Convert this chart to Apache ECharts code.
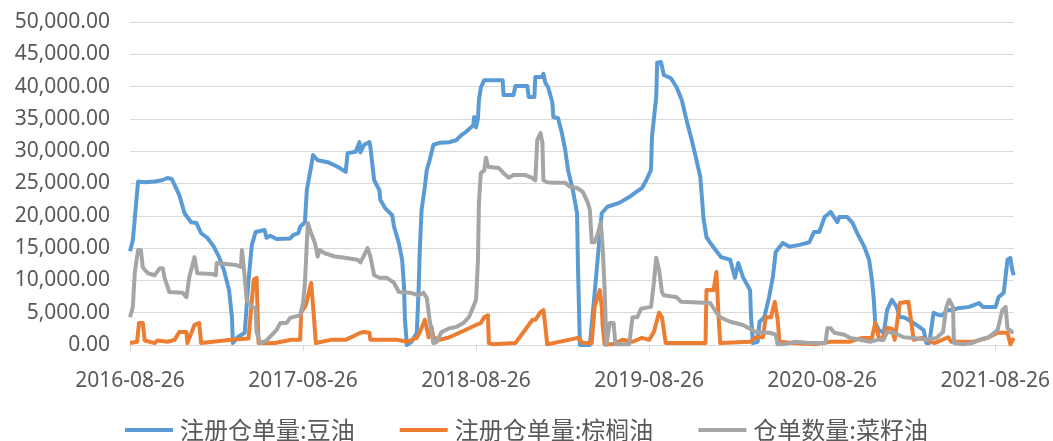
<!DOCTYPE html>
<html>
<head>
<meta charset="utf-8">
<script src="https://cdn.jsdelivr.net/npm/echarts@6/dist/echarts.min.js"></script>
<style>
html,body{margin:0;padding:0;background:#fff;}
#chart{width:1053px;height:441px;}
</style>
</head>
<body>
<div id="chart"></div>
<script>
const seriesNames = ['注册仓单量:豆油', '注册仓单量:棕榈油', '仓单数量:菜籽油'];
const xTickLabels = ['2016-08-26', '2017-08-26', '2018-08-26', '2019-08-26', '2020-08-26', '2021-08-26'];

const soyDates = ['2016-08-26','2016-09-01','2016-09-12','2016-09-26','2016-10-17','2016-11-01','2016-11-13','2016-11-22','2016-11-28','2016-12-08','2016-12-19','2017-01-02','2017-01-13','2017-01-23','2017-02-05','2017-02-19','2017-03-02','2017-03-12','2017-03-23','2017-03-29','2017-03-31','2017-04-04','2017-04-10','2017-04-25','2017-04-29','2017-05-03','2017-05-10','2017-05-18','2017-06-06','2017-06-10','2017-06-18','2017-07-01','2017-07-30','2017-08-05','2017-08-16','2017-08-20','2017-08-30','2017-09-03','2017-09-12','2017-09-16','2017-09-26','2017-10-17','2017-11-07','2017-11-24','2017-11-28','2017-12-15','2017-12-23','2017-12-25','2018-01-02','2018-01-13','2018-01-15','2018-01-23','2018-02-03','2018-02-05','2018-02-15','2018-03-02','2018-03-06','2018-03-16','2018-03-23','2018-03-27','2018-03-29','2018-04-02','2018-04-12','2018-04-23','2018-04-27','2018-04-29','2018-05-03','2018-05-10','2018-05-14','2018-05-20','2018-05-28','2018-06-10','2018-07-01','2018-07-15','2018-07-26','2018-08-05','2018-08-20','2018-08-22','2018-08-26','2018-08-30','2018-09-01','2018-09-05','2018-09-12','2018-10-21','2018-10-23','2018-11-13','2018-11-17','2018-12-12','2018-12-15','2018-12-27','2018-12-29','2019-01-13','2019-01-15','2019-01-19','2019-01-25','2019-02-03','2019-02-05','2019-02-15','2019-02-23','2019-03-02','2019-03-08','2019-03-18','2019-03-27','2019-03-29','2019-04-02','2019-04-23','2019-05-03','2019-05-14','2019-05-18','2019-05-30','2019-06-24','2019-07-15','2019-07-30','2019-08-11','2019-08-20','2019-08-30','2019-09-01','2019-09-10','2019-09-12','2019-09-20','2019-09-26','2019-10-11','2019-10-23','2019-11-03','2019-11-13','2019-11-24','2019-12-04','2019-12-12','2019-12-19','2019-12-25','2020-01-02','2020-01-13','2020-01-25','2020-02-13','2020-02-23','2020-03-01','2020-03-11','2020-03-26','2020-03-28','2020-04-01','2020-04-11','2020-04-15','2020-04-25','2020-05-05','2020-05-13','2020-05-19','2020-06-03','2020-06-17','2020-07-08','2020-07-29','2020-08-08','2020-08-19','2020-08-30','2020-09-12','2020-09-16','2020-09-26','2020-09-30','2020-10-17','2020-10-28','2020-11-07','2020-11-22','2020-12-02','2020-12-08','2020-12-12','2020-12-15','2020-12-23','2021-01-02','2021-01-09','2021-01-19','2021-01-29','2021-02-05','2021-02-13','2021-02-23','2021-03-12','2021-03-27','2021-04-02','2021-04-08','2021-04-17','2021-04-29','2021-05-07','2021-05-14','2021-05-28','2021-06-08','2021-07-01','2021-07-22','2021-07-30','2021-08-26','2021-08-30','2021-09-01','2021-09-12','2021-09-20','2021-09-26','2021-09-30','2021-10-03'];
const soyValues = [14500,16200,25300,25200,25300,25500,25850,25700,24800,23200,20400,19000,18900,17300,16600,15200,13600,11600,8500,4300,300,100,1200,1900,5900,10000,15500,17500,17800,16600,16900,16400,16500,17000,17300,18300,19000,24000,27600,29400,28600,28300,27600,26800,29700,29900,31400,29800,31000,31400,30700,25500,24000,22500,21200,20100,18300,15800,13200,9000,3900,0,500,1900,9000,14200,20900,24500,27100,28600,31000,31300,31400,31700,32500,33000,34000,35300,33700,35100,37900,39800,41000,41000,38700,38700,40100,40100,38400,38400,41500,41500,42000,40600,39900,37500,35300,35100,32800,30200,27100,24000,20400,12000,0,0,8000,17000,20400,21400,22000,22900,23700,24300,25500,27100,32200,38400,43700,43800,41800,41300,39900,37900,34800,31700,28600,26000,19400,16700,15800,14700,13600,13200,10400,12700,10500,8500,4300,300,500,3600,4300,7400,10500,14400,15800,15200,15500,15900,17500,17500,19800,20600,20400,19000,19800,19800,18900,17300,15200,13200,10100,7000,3400,2300,1900,5400,7000,5900,4300,4300,3900,3100,2300,300,300,5000,4600,4600,5400,5400,5700,5900,6500,5900,5900,5700,7400,8100,13200,13500,11600,10800];

const palmDates = ['2016-08-26','2016-09-10','2016-09-14','2016-09-22','2016-09-26','2016-10-17','2016-10-23','2016-11-13','2016-11-28','2016-12-08','2016-12-23','2016-12-25','2017-01-09','2017-01-19','2017-01-23','2017-03-27','2017-05-03','2017-05-07','2017-05-14','2017-05-20','2017-05-24','2017-06-28','2017-08-01','2017-08-20','2017-08-22','2017-09-01','2017-09-12','2017-09-16','2017-09-22','2017-10-23','2017-11-24','2017-12-25','2018-01-02','2018-01-13','2018-01-15','2018-03-12','2018-04-02','2018-04-23','2018-04-29','2018-05-10','2018-05-18','2018-05-24','2018-05-28','2018-06-10','2018-07-01','2018-08-26','2018-09-05','2018-09-12','2018-09-20','2018-09-22','2018-09-30','2018-11-17','2018-12-23','2018-12-29','2019-01-09','2019-01-15','2019-01-19','2019-01-23','2019-03-29','2019-04-08','2019-04-27','2019-05-03','2019-05-14','2019-05-18','2019-05-20','2019-05-24','2019-06-10','2019-07-01','2019-07-22','2019-08-11','2019-08-26','2019-09-05','2019-09-16','2019-09-22','2019-09-30','2019-12-23','2019-12-25','2020-01-09','2020-01-15','2020-01-19','2020-01-23','2020-03-26','2020-04-07','2020-04-22','2020-04-28','2020-05-09','2020-05-17','2020-05-23','2020-05-27','2020-06-23','2020-08-10','2020-09-10','2020-10-21','2020-11-17','2020-12-08','2020-12-15','2020-12-23','2020-12-29','2021-01-09','2021-01-19','2021-01-25','2021-02-05','2021-02-23','2021-03-02','2021-03-06','2021-03-23','2021-04-19','2021-05-18','2021-05-24','2021-07-11','2021-08-09','2021-08-30','2021-09-20','2021-09-26','2021-10-03'];
const palmValues = [300,500,3400,3400,700,300,700,500,800,2000,2000,300,3100,3400,300,800,1000,1200,10100,10400,300,300,800,800,5000,6200,9600,6200,300,800,800,1900,2000,1900,800,800,500,1100,1900,3900,1200,2800,1200,800,1200,3100,3400,4300,4600,300,100,300,3900,3900,5100,5400,3000,100,1100,300,300,5900,8500,5900,3000,100,100,800,500,1100,800,2000,5000,4300,300,300,8500,8500,11300,5000,300,500,1200,1200,4300,4300,6700,4000,500,300,100,500,500,1100,1100,3400,1100,800,2700,2500,800,6500,6700,3000,800,1100,300,1200,500,500,1100,1900,1900,100,1100];

const rapeDates = ['2016-08-26','2016-09-01','2016-09-05','2016-09-12','2016-09-18','2016-09-22','2016-10-03','2016-10-17','2016-10-28','2016-11-03','2016-11-07','2016-11-17','2016-12-15','2016-12-23','2016-12-29','2017-01-09','2017-01-15','2017-02-15','2017-02-23','2017-02-25','2017-04-06','2017-04-17','2017-04-19','2017-04-23','2017-04-29','2017-05-10','2017-05-18','2017-05-20','2017-05-28','2017-06-10','2017-07-01','2017-07-09','2017-07-22','2017-07-30','2017-08-20','2017-08-26','2017-08-30','2017-09-05','2017-09-12','2017-09-20','2017-09-26','2017-09-30','2017-10-11','2017-11-01','2017-11-22','2017-12-19','2017-12-25','2018-01-04','2018-01-09','2018-01-15','2018-01-23','2018-02-03','2018-02-19','2018-03-06','2018-03-16','2018-04-08','2018-04-27','2018-05-07','2018-05-14','2018-05-20','2018-05-28','2018-06-04','2018-06-14','2018-07-01','2018-07-15','2018-07-30','2018-08-11','2018-08-20','2018-08-26','2018-08-30','2018-09-01','2018-09-05','2018-09-12','2018-09-16','2018-09-20','2018-10-13','2018-10-23','2018-11-03','2018-11-13','2018-12-08','2018-12-21','2018-12-29','2019-01-02','2019-01-09','2019-01-13','2019-01-15','2019-01-23','2019-02-09','2019-03-02','2019-03-12','2019-03-27','2019-04-08','2019-04-19','2019-04-23','2019-04-27','2019-05-03','2019-05-10','2019-05-16','2019-05-20','2019-05-24','2019-05-28','2019-06-04','2019-06-12','2019-06-16','2019-07-15','2019-07-22','2019-08-01','2019-08-09','2019-08-11','2019-08-30','2019-09-05','2019-09-10','2019-09-16','2019-09-22','2019-09-26','2019-10-23','2019-11-01','2020-01-02','2020-01-15','2020-01-23','2020-02-13','2020-03-11','2020-04-07','2020-05-06','2020-05-19','2020-05-23','2020-06-03','2020-06-30','2020-07-29','2020-09-01','2020-09-05','2020-09-12','2020-09-20','2020-10-11','2020-10-23','2020-11-13','2020-12-04','2020-12-19','2021-01-02','2021-01-09','2021-01-23','2021-02-13','2021-03-06','2021-04-02','2021-04-23','2021-05-07','2021-05-14','2021-05-20','2021-05-28','2021-05-30','2021-06-18','2021-07-08','2021-07-22','2021-08-11','2021-08-30','2021-09-09','2021-09-16','2021-09-20','2021-09-30','2021-10-03'];
const rapeValues = [4300,5900,11100,14700,14700,12000,11100,10800,11900,11900,10400,8200,8100,7400,10500,13600,11100,11000,10800,12700,12400,12100,14700,12100,7000,5900,5700,2000,300,700,2300,3400,3400,4200,4600,6500,9600,18900,17300,15800,13700,14700,14200,13700,13500,13200,12800,14200,15000,13700,10800,10400,10400,9600,8200,8100,7700,8100,7300,3900,300,500,2000,2600,2800,3400,4300,5900,7000,13200,22000,26600,27000,29000,27600,27400,26600,25900,26300,26300,25900,25500,31700,32800,31300,25500,25200,25100,25100,24500,24300,23700,22000,20900,15900,15900,17300,19000,15200,9000,0,3400,3400,100,100,4300,4300,5600,5900,5900,9600,13500,11600,8200,7700,7400,6700,6500,5000,4300,3600,3100,2000,1900,1600,100,100,500,300,300,2600,2600,1900,1600,1100,800,500,800,800,2000,1900,1200,1100,800,1100,2000,5900,7000,5900,300,100,300,800,1200,2300,5400,5900,2600,2000,2000];

const colors = ['#5B9BD5', '#ED7D31', '#A5A5A5'];
const baseTime = Date.UTC(2016, 7, 26);
function dayOffset(s) {
  const p = s.split('-').map(Number);
  return Math.round((Date.UTC(p[0], p[1] - 1, p[2]) - baseTime) / 86400000);
}
function pairs(dates, values) { return dates.map((d, i) => [dayOffset(d), values[i]]); }
const allSeries = [pairs(soyDates, soyValues), pairs(palmDates, palmValues), pairs(rapeDates, rapeValues)];
const xMax = Math.max(...allSeries.map(s => s[s.length - 1][0]));

const chart = echarts.init(document.getElementById('chart'), null, {renderer: 'canvas'});
chart.setOption({
  backgroundColor: '#ffffff',
  animation: false,
  grid: {left: 130, right: 30, top: 22, bottom: 96, containLabel: false},
  legend: {
    data: seriesNames,
    left: 'center',
    top: 418,
    padding: 0,
    icon: 'rect',
    itemWidth: 48,
    itemHeight: 4,
    itemGap: 45,
    textStyle: {color: '#595959', fontSize: 24, fontFamily: '"Noto Sans CJK SC", sans-serif', padding: [0, 0, 0, 2]}
  },
  xAxis: {
    type: 'value',
    min: 0,
    max: xMax,
    interval: 365,
    axisLine: {show: true, lineStyle: {color: '#d9d9d9', width: 1}},
    axisTick: {show: true, length: 6, lineStyle: {color: '#d9d9d9'}},
    splitLine: {show: false},
    axisLabel: {
      show: true,
      showMaxLabel: false,
      margin: 26,
      color: '#595959',
      fontSize: 21,
      fontFamily: '"Noto Sans", sans-serif',
      formatter: function (v) {
        const i = Math.round(v / 365);
        if (Math.abs(v - i * 365) < 1 && i < xTickLabels.length) return xTickLabels[i];
        return '';
      }
    }
  },
  yAxis: {
    type: 'value',
    min: 0,
    max: 50000,
    interval: 5000,
    axisLine: {show: false},
    axisTick: {show: false},
    splitLine: {show: true, lineStyle: {color: '#d9d9d9', width: 1}},
    axisLabel: {
      margin: 20,
      color: '#595959',
      fontSize: 21,
      fontFamily: '"Noto Sans", sans-serif',
      formatter: v => v.toLocaleString('en-US', {minimumFractionDigits: 2, maximumFractionDigits: 2})
    }
  },
  series: seriesNames.map((name, i) => ({
    name: name,
    type: 'line',
    data: allSeries[i],
    showSymbol: false,
    symbol: 'none',
    color: colors[i],
    lineStyle: {color: colors[i], width: 4, join: 'round'},
    z: 2 + i
  }))
});
</script>
</body>
</html>
